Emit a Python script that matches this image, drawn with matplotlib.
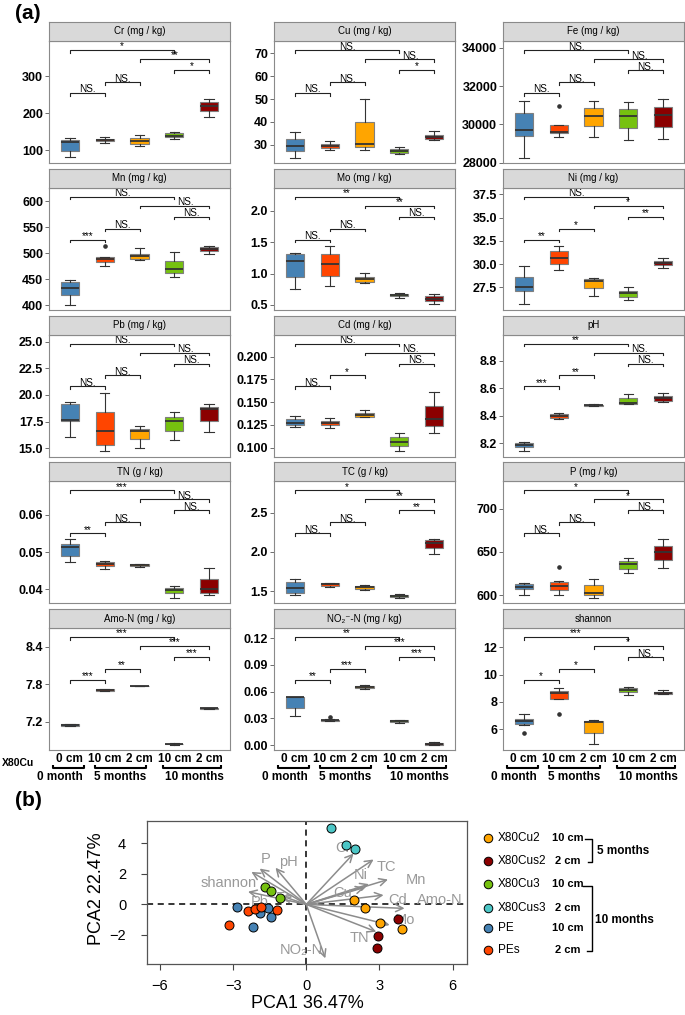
# soil properties boxplots (a) + PCA biplot (b)

import numpy as np
import matplotlib.pyplot as plt
from matplotlib.transforms import blended_transform_factory

plt.rcParams['font.family'] = ['Liberation Sans', 'DejaVu Sans']

W, H = 685, 1015

# ---------------- data (a) ----------------
titles = ['Cr (mg / kg)', 'Cu (mg / kg)', 'Fe (mg / kg)',
          'Mn (mg / kg)', 'Mo (mg / kg)', 'Ni (mg / kg)',
          'Pb (mg / kg)', 'Cd (mg / kg)', 'pH',
          'TN (g / kg)', 'TC (g / kg)', 'P (mg / kg)',
          'Amo-N (mg / kg)', 'NO\u2082\u207b-N (mg / kg)', 'shannon']

group_labels = ['0 cm', '10 cm', '2 cm', '10 cm', '2 cm']
box_colors = ['#4682B4', '#FF4500', '#FFA500', '#76C10F', '#8B0000']

# each box: [whisker low, q1, median, q3, whisker high]
cr = [[80, 97, 121, 128, 132], [120, 125, 128, 131, 134], [111, 116, 125, 132, 140],
      [129, 134, 139, 145, 149], [190, 206, 219, 231, 238]]
cu = [[24.3, 27.2, 29.4, 32.6, 35.4], [27.7, 28.7, 29.6, 30.3, 31.8], [27.7, 29.0, 30.3, 40.0, 50.0],
      [25.9, 26.5, 27.2, 28.0, 29.1], [32.0, 32.4, 33.5, 34.2, 36.0]]
fe = [[28257, 29390, 29703, 30574, 31216], [29330, 29530, 29620, 29970, 29970],
      [29320, 29911, 30449, 30835, 31216], [29181, 29791, 30449, 30783, 31163],
      [29217, 29859, 30502, 30903, 31304]]
mn = [[401, 419, 433, 444, 449], [476, 483, 488, 493, 493], [486, 488, 494, 499, 509],
      [454, 461, 469, 485, 503], [499, 504, 507, 511, 514]]
mo = [[0.754, 0.94, 1.2, 1.306, 1.331], [0.797, 0.956, 1.147, 1.316, 1.438],
      [0.845, 0.87, 0.908, 0.95, 1.004], [0.617, 0.638, 0.659, 0.67, 0.686],
      [0.511, 0.559, 0.595, 0.643, 0.675]]
ni = [[25.67, 27.13, 27.56, 28.58, 29.79], [29.36, 30.0, 30.7, 31.4, 31.94],
      [26.56, 27.46, 28.2, 28.36, 28.53], [26.13, 26.49, 26.85, 27.1, 27.5],
      [29.58, 29.86, 30.08, 30.36, 30.62]]
pb = [[16.09, 17.56, 17.65, 19.13, 19.37], [14.75, 15.31, 16.65, 18.43, 20.22],
      [15.0, 15.84, 16.62, 16.81, 17.09], [15.78, 16.65, 17.59, 17.96, 18.43],
      [16.56, 17.59, 18.66, 18.85, 19.16]]
cd = [[0.1224, 0.1246, 0.1275, 0.1319, 0.1348], [0.1216, 0.125, 0.1275, 0.1293, 0.133],
      [0.1334, 0.1341, 0.136, 0.1378, 0.1411], [0.096, 0.1018, 0.1059, 0.1114, 0.1158],
      [0.1165, 0.1238, 0.1312, 0.1458, 0.1609]]
ph = [[8.144, 8.171, 8.185, 8.2, 8.212], [8.377, 8.382, 8.398, 8.413, 8.422],
      [8.47, 8.473, 8.478, 8.48, 8.483], [8.483, 8.485, 8.495, 8.527, 8.56],
      [8.498, 8.509, 8.527, 8.546, 8.567]]
tn = [[0.0473, 0.0489, 0.0514, 0.0521, 0.0534], [0.0454, 0.0462, 0.0468, 0.0473, 0.0477],
      [0.046, 0.0462, 0.0465, 0.0468, 0.0469], [0.0377, 0.0391, 0.0399, 0.0404, 0.0408],
      [0.0384, 0.0391, 0.04, 0.0428, 0.0458]]
tc = [[1.457, 1.478, 1.542, 1.618, 1.66], [1.56, 1.567, 1.589, 1.601, 1.61],
      [1.516, 1.533, 1.551, 1.567, 1.576], [1.415, 1.424, 1.44, 1.457, 1.466],
      [1.974, 2.05, 2.118, 2.153, 2.162]]
phos = [[600, 606.9, 609.6, 612.7, 614.5], [600, 606.5, 610.4, 615.4, 616.2],
        [596.9, 600, 603, 611.5, 619.2], [626.1, 630.7, 636.1, 639.6, 643],
        [631.9, 641.1, 650, 656.6, 664.7]]
amo = [[7.125, 7.131, 7.147, 7.163, 7.17], [7.69, 7.695, 7.707, 7.72, 7.725],
       [7.765, 7.768, 7.771, 7.775, 7.778], [6.833, 6.837, 6.843, 6.85, 6.853],
       [7.40, 7.405, 7.414, 7.42, 7.425]]
no2 = [[0.033, 0.0413, 0.0535, 0.0543, 0.0543], [0.0268, 0.0272, 0.0277, 0.0285, 0.029],
       [0.063, 0.0645, 0.0655, 0.0665, 0.067], [0.0245, 0.0257, 0.0267, 0.0278, 0.028],
       [0.0, 0.0002, 0.001, 0.0022, 0.0035]]
shannon = [[6.27, 6.37, 6.61, 6.76, 7.1], [8.23, 8.23, 8.67, 8.82, 9.04],
           [4.87, 5.68, 6.5, 6.59, 6.66], [8.5, 8.72, 8.87, 9.0, 9.11],
           [8.55, 8.55, 8.67, 8.74, 8.87]]

box_data = [cr, cu, fe, mn, mo, ni, pb, cd, ph, tn, tc, phos, amo, no2, shannon]

# outliers: panel index -> (box index, value)
outliers = {2: [(1, 30955)], 3: [(1, 514)], 11: [(1, 632.3)],
            13: [(1, 0.0312)], 14: [(0, 5.73), (1, 7.08)]}

ylims = [(64.9, 394.6), (22, 75.4), (27984, 34350),
         (391, 625.6), (0.424, 2.364), (25.09, 38.2),
         (14.23, 25.67), (0.0903, 0.2244), (8.104, 8.99),
         (0.03626, 0.069), (1.348, 2.9), (590.8, 731.7),
         (6.747, 8.699), (-0.0056, 0.1316), (4.456, 13.43)]

yticks = [[100, 200, 300], [30, 40, 50, 60, 70], [28000, 30000, 32000, 34000],
          [400, 450, 500, 550, 600], [0.5, 1.0, 1.5, 2.0], [27.5, 30.0, 32.5, 35.0, 37.5],
          [15.0, 17.5, 20.0, 22.5, 25.0], [0.100, 0.125, 0.150, 0.175, 0.200], [8.2, 8.4, 8.6, 8.8],
          [0.04, 0.05, 0.06], [1.5, 2.0, 2.5], [600, 650, 700],
          [7.2, 7.8, 8.4], [0.00, 0.03, 0.06, 0.09, 0.12], [6, 8, 10, 12]]
ytick_fmt = ['{:.0f}', '{:.0f}', '{:.0f}', '{:.0f}', '{:.1f}', '{:.1f}',
             '{:.1f}', '{:.3f}', '{:.1f}', '{:.2f}', '{:.1f}', '{:.0f}',
             '{:.1f}', '{:.2f}', '{:.0f}']

# comparisons: (1,2), (2,3), (1,4), (3,5), (4,5)
comparisons = [(1, 2), (2, 3), (1, 4), (3, 5), (4, 5)]
sig_labels = [['NS.', 'NS.', '*', '**', '*'],
              ['NS.', 'NS.', 'NS.', 'NS.', '*'],
              ['NS.', 'NS.', 'NS.', 'NS.', 'NS.'],
              ['***', 'NS.', 'NS.', 'NS.', 'NS.'],
              ['NS.', 'NS.', '**', '**', 'NS.'],
              ['**', '*', 'NS.', '*', '**'],
              ['NS.', 'NS.', 'NS.', 'NS.', 'NS.'],
              ['NS.', '*', 'NS.', 'NS.', 'NS.'],
              ['***', '**', '**', 'NS.', 'NS.'],
              ['**', 'NS.', '***', 'NS.', 'NS.'],
              ['NS.', 'NS.', '*', '**', '**'],
              ['NS.', 'NS.', '*', '*', 'NS.'],
              ['***', '**', '***', '***', '***'],
              ['**', '***', '**', '***', '***'],
              ['*', '*', '***', '*', 'NS.']]

month_labels = ['0 month', '5 months', '10 months']

# ---------------- data (b) ----------------
pca_groups = ['X80Cu2', 'X80Cus2', 'X80Cu3', 'X80Cus3', 'PE', 'PEs']
pca_depths = ['10 cm', '2 cm', '10 cm', '2 cm', '10 cm', '2 cm']
pca_colors = ['#FFA500', '#8B0000', '#76C10F', '#4CC6C6', '#4682B4', '#FF4500']
pca_x = [[1.94, 2.40, 3.03, 3.93],
         [3.76, 2.94, 2.91],
         [-1.68, -1.43, -1.08],
         [1.02, 1.64, 1.99],
         [-2.83, -1.91, -1.57, -1.43, -2.19],
         [-3.17, -2.39, -2.09, -1.84, -1.20]]
pca_y = [[0.28, -0.22, -1.24, -1.61],
         [-0.96, -2.05, -2.83],
         [1.15, 0.87, 0.44],
         [5.01, 3.88, 3.66],
         [-0.15, -0.54, -0.22, -0.81, -1.46],
         [-1.33, -0.44, -0.28, -0.15, -0.37]]

var_names = ['Cr', 'TC', 'Ni', 'Mn', 'Cu', 'Cd', 'Amo-N', 'Mo', 'TN',
             'NO\u2082-N', 'P', 'pH', 'shannon', 'Pb', 'Fe']
var_x = [1.94, 2.76, 2.57, 3.35, 2.39, 3.17, 4.03, 3.42, 2.87, 0.78, -1.91, -1.26, -2.25, -2.39, -1.0]
var_y = [3.33, 2.94, 1.33, 1.63, 1.11, 0.61, -0.26, -1.35, -1.79, -3.53, 2.35, 2.40, 2.13, 0.83, 0.55]
lab_x = [1.5, 3.28, 2.25, 4.5, 1.5, 3.76, 5.46, 4.03, 2.19, -0.2, -1.67, -0.75, -3.17, -1.91, -0.9]
lab_y = [3.66, 2.46, 1.92, 1.59, 0.72, 0.28, 0.28, -1.02, -2.22, -2.98, 3.0, 2.79, 1.37, 0.17, 0.45]

# ---------------- figure ----------------
fig = plt.figure(figsize=(W / 100, H / 100), dpi=100)


def fig_rect(x0, y0, w, h):
    return [x0 / W, 1 - (y0 + h) / H, w / W, h / H]


col_left = [49, 274, 503]
panel_w, strip_h, axes_h, row_pitch = 181, 19, 122, 146.75
bracket_y = [0.574, 0.664, 0.926, 0.852, 0.762]
positions = [1, 2, 3, 4, 5]
edge = '#8a8a8a'

for k in range(15):
    r, c = divmod(k, 3)
    strip_top = 22 + r * row_pitch
    ax = fig.add_axes(fig_rect(col_left[c], strip_top + strip_h, panel_w, axes_h))
    sax = fig.add_axes(fig_rect(col_left[c], strip_top, panel_w, strip_h))

    sax.set_facecolor('#D9D9D9')
    sax.set_xticks([])
    sax.set_yticks([])
    for s in sax.spines.values():
        s.set_color(edge)
        s.set_linewidth(0.8)
    sax.text(0.5, 0.5, titles[k], ha='center', va='center', fontsize=7, transform=sax.transAxes)

    stats = []
    for g, (lo, q1, med, q3, hi) in enumerate(box_data[k]):
        fl = [v for (gg, v) in outliers.get(k, []) if gg == g]
        stats.append(dict(whislo=lo, q1=q1, med=med, q3=q3, whishi=hi, fliers=fl))
    bp = ax.bxp(stats, positions=positions, widths=0.52, capwidths=0.27,
                patch_artist=True, showfliers=True,
                boxprops=dict(edgecolor='#7f7f7f', linewidth=0.8),
                medianprops=dict(color='#333333', linewidth=1.3),
                whiskerprops=dict(color='#333333', linewidth=0.8),
                capprops=dict(color='#333333', linewidth=0.8),
                flierprops=dict(marker='o', markersize=2.3, markerfacecolor='#333333',
                                markeredgecolor='#333333'))
    for patch, col in zip(bp['boxes'], box_colors):
        patch.set_facecolor(col)

    ax.set_xlim(0.4, 5.6)
    ax.set_ylim(*ylims[k])
    ax.set_yticks(yticks[k])
    ax.set_yticklabels([ytick_fmt[k].format(v) for v in yticks[k]], fontweight='bold')
    ax.tick_params(axis='y', length=3, width=0.6, color='#555555', pad=1.2, labelsize=9)
    for s in ax.spines.values():
        s.set_color(edge)
        s.set_linewidth(0.8)

    # significance brackets
    trans = blended_transform_factory(ax.transData, ax.transAxes)
    for (i, j), f, lab in zip(comparisons, bracket_y, sig_labels[k]):
        ax.plot([i, i, j, j], [f - 0.022, f, f, f - 0.022], color='#222222', lw=0.8,
                transform=trans, clip_on=False)
        dx = 0.33 if (lab == 'NS.' and (i, j) == (3, 5)) else 0
        ax.text((i + j) / 2 + dx, f + 0.004, lab, transform=trans, ha='center',
                va='baseline', fontsize=7.2)

    if r == 4:
        ax.set_xticks(positions)
        ax.set_xticklabels(group_labels, fontweight='bold', fontsize=8.5)
        ax.tick_params(axis='x', length=0, pad=2)
        # group brackets under the boxes
        for (x0, x1) in [(0.52, 1.4), (1.72, 3.2), (3.68, 5.34)]:
            ax.plot([x0, x0, x1, x1], [-0.125, -0.148, -0.148, -0.125], color='black',
                    lw=1.5, transform=trans, clip_on=False, solid_capstyle='butt')
        for xm, lab in zip([0.72, 2.43, 4.57], month_labels):
            ax.text(xm, -0.222, lab, transform=trans, ha='center', va='center',
                    fontweight='bold', fontsize=8.5)
    else:
        ax.set_xticks([])

# ---------------- PCA panel ----------------
pax = fig.add_axes(fig_rect(147, 821, 320, 143))
pax.axhline(0, color='black', lw=1.1, ls=(0, (4, 3)), zorder=1)
pax.axvline(0, color='black', lw=1.1, ls=(0, (4, 3)), zorder=1)
for vx, vy, lx, ly, nm in zip(var_x, var_y, lab_x, lab_y, var_names):
    pax.annotate('', xy=(vx, vy), xytext=(0, 0),
                 arrowprops=dict(arrowstyle='->', color='#8c8c8c', lw=1.1,
                                 mutation_scale=13, shrinkA=0, shrinkB=0), zorder=2)
    pax.text(lx, ly, nm, color='#999999', fontsize=10.5, ha='center', va='center', zorder=2)
for xs, ys, col in zip(pca_x, pca_y, pca_colors):
    pax.scatter(xs, ys, s=42, c=col, edgecolors='black', linewidths=0.7, zorder=5)
pax.set_xlim(-6.53, 6.59)
pax.set_ylim(-3.9, 5.46)
pax.set_xticks([-6, -3, 0, 3, 6])
pax.set_yticks([-2, 0, 2, 4])
pax.tick_params(axis='x', length=4, width=0.8, labelsize=10.5, pad=7, color='#444444')
pax.tick_params(axis='y', length=4, width=0.8, labelsize=10.5, pad=11, color='#444444')
for s in pax.spines.values():
    s.set_color('#555555')
    s.set_linewidth(0.9)

# ---------------- overlay: labels and legend ----------------
ov = fig.add_axes([0, 0, 1, 1])
ov.set_xlim(0, W)
ov.set_ylim(H, 0)
ov.axis('off')

ov.text(15, 13, '(a)', fontsize=15, fontweight='bold', ha='left', va='center')
ov.text(15, 800, '(b)', fontsize=15, fontweight='bold', ha='left', va='center')
ov.text(2, 763, 'X80Cu', fontsize=7.5, fontweight='bold', ha='left', va='center')
ov.text(307, 1003, 'PCA1 36.47%', fontsize=13, ha='center', va='center')
ov.text(97, 889, 'PCA2 22.47%', fontsize=13, ha='center', va='center', rotation=90)

leg_y = [838, 861, 884, 908, 928, 950]
for yy, nm, dp, col in zip(leg_y, pca_groups, pca_depths, pca_colors):
    ov.scatter([488], [yy], s=38, c=col, edgecolors='black', linewidths=0.7)
    ov.text(498, yy, nm, fontsize=8.5, ha='left', va='center')
    ov.text(568, yy, dp, fontsize=8, fontweight='bold', ha='center', va='center')

ov.plot([585, 592, 592, 588], [839, 839, 862, 862], color='black', lw=1)
ov.text(597, 851, '5 months', fontsize=8.5, fontweight='bold', ha='left', va='center')
ov.plot([583, 592, 592, 587], [886, 886, 951, 951], color='black', lw=1)
ov.text(595, 920, '10 months', fontsize=8.5, fontweight='bold', ha='left', va='center')

fig.savefig('out.png', dpi=100)
